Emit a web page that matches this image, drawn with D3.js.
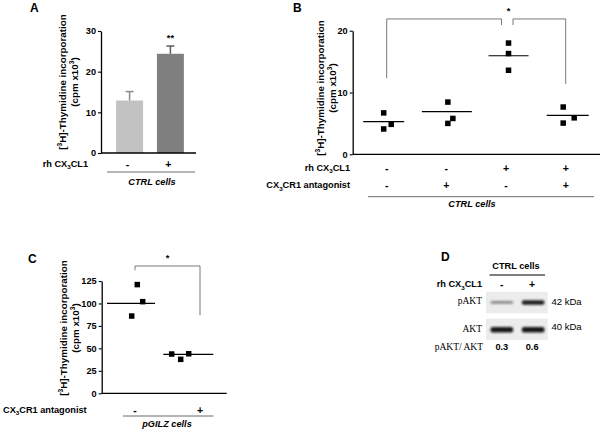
<!DOCTYPE html>
<html><head><meta charset="utf-8">
<script src="https://cdn.jsdelivr.net/npm/d3@7"></script>
<style>
body{margin:0;background:#fff}
svg text{font-family:"Liberation Sans",Arial,sans-serif;fill:#000}
</style></head><body>
<svg id="c" width="603" height="432"></svg>
<script>
// ---------- Panel A ----------
const aGroups = ["-", "+"];
const aMeans = [12.9, 24.4];
const aErrors = [2.2, 1.9];
const aTicks = [0, 10, 20, 30];
const aSignif = ["", "**"];
// ---------- Panel B ----------
const bGroups = ["g1", "g2", "g3", "g4"];
const bCL1 = ["-", "-", "+", "+"];
const bAntag = ["-", "+", "-", "+"];
const bPoints = [[6.7, 4.85, 4.1], [8.45, 5.8, 5.0], [18.0, 16.3, 13.6], [7.65, 5.9, 5.05]];
const bMeans = [5.3, 6.9, 15.95, 6.3];
const bTicks = [0, 10, 20];
// ---------- Panel C ----------
const cGroups = ["-", "+"];
const cPoints = [[121, 102, 86], [43.7, 37.8, 44]];
const cMeans = [100, 43.3];
const cTicks = [0, 25, 50, 75, 100, 125];
// ---------- Panel D ----------
const dLanes = ["-", "+"];
const dRows = ["pAKT", "AKT"];
const dSizes = ["42 kDa", "40 kDa"];
const dRatio = [0.3, 0.6];

const svg = d3.select("#c");
const FS = 9.2;

function txt(g, x, y, parts, opts = {}) {
  const size = opts.size || FS;
  const t = g.append("text").attr("x", x).attr("y", y)
    .attr("font-size", size)
    .attr("font-weight", opts.weight || "bold")
    .attr("text-anchor", opts.anchor || "start")
    .attr("dominant-baseline", "middle");
  if (opts.italic) t.attr("font-style", "italic");
  if (opts.family) t.style("font-family", opts.family);
  if (typeof parts === "string") parts = [parts];
  let pending = 0;
  parts.forEach(p => {
    const s = t.append("tspan");
    if (typeof p === "string") {
      s.text(p);
      if (pending) s.attr("dy", pending);
      pending = 0;
    } else {
      const off = p.sub ? 2.6 : -3.2;
      s.text(p.sub || p.sup).attr("font-size", size * 0.68).attr("dy", off + pending);
      pending = -off;
    }
  });
  return t;
}

function yLabel(g, x, cy) {
  const gg = g.append("g").attr("transform", `translate(${x},${cy}) rotate(-90)`);
  txt(gg, 0, 0, ["[", {sup: "3"}, "H]-Thymidine incorporation"], {anchor: "middle", size: 9.8});
  txt(gg, 0, 12, ["(cpm x10", {sup: "3"}, ")"], {anchor: "middle", size: 9.8});
}

function styleAxis(sel) {
  sel.select(".domain").attr("stroke", "#000").attr("stroke-width", 1.3);
  sel.selectAll(".tick line").attr("stroke", "#000").attr("stroke-width", 1.1);
  sel.selectAll(".tick text").attr("font-size", 9.2).attr("font-weight", "bold")
    .style("font-family", '"Liberation Sans",Arial,sans-serif').attr("fill", "#000");
}

function hline(g, x1, x2, y, w = 1, c = "#000") {
  g.append("line").attr("x1", x1).attr("x2", x2).attr("y1", y).attr("y2", y)
    .attr("stroke", c).attr("stroke-width", w);
}

// ================= A =================
{
  const g = svg.append("g");
  const y = d3.scaleLinear().domain([0, 30]).range([153, 31]);
  const x = d3.scaleBand().domain(aGroups).range([110, 190]).paddingInner(0.34).paddingOuter(0.15);
  const colors = ["#c2c2c2", "#7f7f7f"];
  const errCol = ["#8a8a8a", "#5a5a5a"];
  g.selectAll("rect.bar").data(aMeans).join("rect")
    .attr("x", (d, i) => x(aGroups[i])).attr("width", x.bandwidth())
    .attr("y", d => y(d)).attr("height", d => y(0) - y(d))
    .attr("fill", (d, i) => colors[i]);
  aMeans.forEach((m, i) => {
    const cx = x(aGroups[i]) + x.bandwidth() / 2;
    g.append("line").attr("x1", cx).attr("x2", cx).attr("y1", y(m)).attr("y2", y(m + aErrors[i]))
      .attr("stroke", errCol[i]).attr("stroke-width", 1.5);
    g.append("line").attr("x1", cx - 4).attr("x2", cx + 4).attr("y1", y(m + aErrors[i])).attr("y2", y(m + aErrors[i]))
      .attr("stroke", errCol[i]).attr("stroke-width", 1.5);
    if (aSignif[i]) txt(g, cx, y(m + aErrors[i]) - 7, aSignif[i], {anchor: "middle"});
    txt(g, cx - 2, 164.5, aGroups[i], {anchor: "middle", size: 10.5});
  });
  g.append("g").attr("transform", "translate(101,0)")
    .call(d3.axisLeft(y).tickValues(aTicks).tickSize(3).tickSizeOuter(0).tickPadding(2)).call(styleAxis);
  hline(g, 101, 196, y(0), 1.3);
  txt(g, 30, 9, "A", {size: 12});
  yLabel(g, 63, 82);
  txt(g, 88, 164.5, ["rh CX", {sub: "3"}, "CL1"], {anchor: "end"});
  hline(g, 107, 195, 172, 0.8, "#444");
  txt(g, 152, 183, "CTRL cells", {anchor: "middle", italic: true});
}

// ================= B =================
{
  const g = svg.append("g");
  const y = d3.scaleLinear().domain([0, 20]).range([154.3, 30.7]);
  const x = d3.scalePoint().domain(bGroups).range([386.7, 565.7]);
  const jit = [[-3, 4.5, -3], [1.5, 6.5, 1.5], [2.5, 2.5, 2.5], [-2.5, 8.5, -2.5]];
  const lineOff = [-3, 0.5, 2.5, 2];
  const lineW = [41, 50, 40, 42];
  const S = 5.5;
  bPoints.forEach((pts, gi) => {
    const cx = x(bGroups[gi]);
    g.selectAll(null).data(pts).join("rect")
      .attr("x", (d, k) => cx + jit[gi][k] - S / 2).attr("y", d => y(d) - S / 2)
      .attr("width", S).attr("height", S).attr("fill", "#000");
    const lc = cx + lineOff[gi];
    hline(g, lc - lineW[gi] / 2, lc + lineW[gi] / 2, y(bMeans[gi]), 1.2);
    txt(g, cx, 168.5, bCL1[gi], {anchor: "middle", size: 10.5});
    txt(g, cx, 186, bAntag[gi], {anchor: "middle", size: 10.5});
  });
  g.append("g").attr("transform", "translate(352.7,0)")
    .call(d3.axisLeft(y).tickValues(bTicks).tickSize(3).tickSizeOuter(0).tickPadding(2)).call(styleAxis);
  hline(g, 352.7, 600, y(0), 1.3);
  const top = y(21.9), inner = y(20.9);
  const xl = x("g1"), xr = x("g4"), xs = x("g3");
  g.append("path").attr("fill", "none").attr("stroke", "#555").attr("stroke-width", 0.8)
    .attr("d", `M${xl},${y(12.3)}V${top}H${xs - 4.5}V${inner}M${xs + 7},${inner}V${top}H${xr}V${y(11.4)}`);
  txt(g, xs + 2.5, 12, "*", {anchor: "middle"});
  txt(g, 293, 9, "B", {size: 12});
  yLabel(g, 321, 88);
  txt(g, 350, 168.5, ["rh CX", {sub: "3"}, "CL1"], {anchor: "end"});
  txt(g, 350, 186, ["CX", {sub: "3"}, "CR1 antagonist"], {anchor: "end"});
  hline(g, 368, 594, 196.7, 0.8, "#444");
  txt(g, 472, 204.5, "CTRL cells", {anchor: "middle", italic: true});
}

// ================= C =================
{
  const g = svg.append("g");
  const y = d3.scaleLinear().domain([0, 125]).range([393.3, 281]);
  const xl = d3.scalePoint().domain(cGroups).range([135, 200]);
  const xd = d3.scalePoint().domain(cGroups).range([134, 188]);
  const jit = [[3.3, 8.7, -2.3], [-16.3, -7.3, 0.7]];
  const lineOff = [-3, 0.3];
  const lineW = [48, 50];
  const S = 5.5;
  cPoints.forEach((pts, gi) => {
    const cx = xd(cGroups[gi]);
    g.selectAll(null).data(pts).join("rect")
      .attr("x", (d, k) => cx + jit[gi][k] - S / 2).attr("y", d => y(d) - S / 2)
      .attr("width", S).attr("height", S).attr("fill", "#000");
    const lc = cx + lineOff[gi];
    hline(g, lc - lineW[gi] / 2, lc + lineW[gi] / 2, y(cMeans[gi]), 1.2);
    txt(g, xl(cGroups[gi]), 410.5, cGroups[gi], {anchor: "middle", size: 10.5});
  });
  g.append("g").attr("transform", "translate(101.7,0)")
    .call(d3.axisLeft(y).tickValues(cTicks).tickSize(3).tickSizeOuter(0).tickPadding(2)).call(styleAxis);
  hline(g, 101.7, 226.7, y(0), 1.3);
  const x1 = xl("-"), x2 = xl("+");
  g.append("path").attr("fill", "none").attr("stroke", "#555").attr("stroke-width", 0.8)
    .attr("d", `M${x1},${y(137)}V${y(141.7)}H${x2}V${y(87)}`);
  txt(g, (x1 + x2) / 2, 258.5, "*", {anchor: "middle"});
  txt(g, 28, 260, "C", {size: 12});
  yLabel(g, 64, 328);
  txt(g, 3, 410.5, ["CX", {sub: "3"}, "CR1 antagonist"]);
  hline(g, 123, 213.5, 416, 0.8, "#444");
  txt(g, 167, 425, "pGILZ cells", {anchor: "middle", italic: true});
}

// ================= D =================
{
  const g = svg.append("g");
  const defs = svg.append("defs");
  defs.append("filter").attr("id", "blur").attr("x", "-20%").attr("y", "-100%").attr("width", "140%").attr("height", "300%")
    .append("feGaussianBlur").attr("stdDeviation", "1.3 0.9");
  defs.append("filter").attr("id", "blur2").append("feGaussianBlur").attr("stdDeviation", 0.6);
  const xl = d3.scaleBand().domain(dLanes).range([487, 548]).paddingInner(0.15).paddingOuter(0.05);
  const rowY = d3.scaleBand().domain(dRows).range([291.7, 340]).paddingInner(0.2);
  const inten = d3.scaleLinear().domain([0, 0.6]).range([0, 0.92]);
  txt(g, 441, 258, "D", {size: 12});
  txt(g, 516, 267, "CTRL cells", {anchor: "middle"});
  hline(g, 489.5, 545, 275, 1.2, "#000");
  txt(g, 482, 285, ["rh CX", {sub: "3"}, "CL1"], {anchor: "end"});
  dLanes.forEach((l, i) => txt(g, xl(l) + xl.bandwidth() / 2 + (i ? -1 : 0), 285, l, {anchor: "middle", size: 10.5}));
  dRows.forEach((r, ri) => {
    const y0 = rowY(r);
    g.append("rect").attr("x", 486).attr("y", y0).attr("width", 61.7).attr("height", rowY.bandwidth())
      .attr("fill", "#ececec").attr("filter", "url(#blur2)");
    const by = y0 + rowY.bandwidth() * (ri ? 0.52 : 0.5);
    dLanes.forEach((l, li) => {
      const op = ri === 0 ? inten(dRatio[li]) : 0.95;
      const th = ri === 0 ? (li ? 4.5 : 2.8) : 5.5;
      g.append("rect").attr("x", xl(l) + 2).attr("width", xl.bandwidth() - 4)
        .attr("y", by - th / 2).attr("height", th).attr("rx", 2)
        .attr("fill", "#111").attr("opacity", op).attr("filter", "url(#blur)");
    });
    txt(g, 482, by, r, {anchor: "end", weight: "normal", family: '"Liberation Serif","Times New Roman",serif', size: 9.5});
    txt(g, 551.5, ri ? by - 3 : by, dSizes[ri], {weight: "normal", size: 9.5});
  });
  txt(g, 483, 348, "pAKT/ AKT", {anchor: "end", weight: "normal", family: '"Liberation Serif","Times New Roman",serif', size: 9.5});
  dRatio.forEach((v, i) => txt(g, xl(dLanes[i]) + xl.bandwidth() / 2 + (i ? -1 : 0), 348, v.toFixed(1), {anchor: "middle"}));
}
</script>
</body></html>
